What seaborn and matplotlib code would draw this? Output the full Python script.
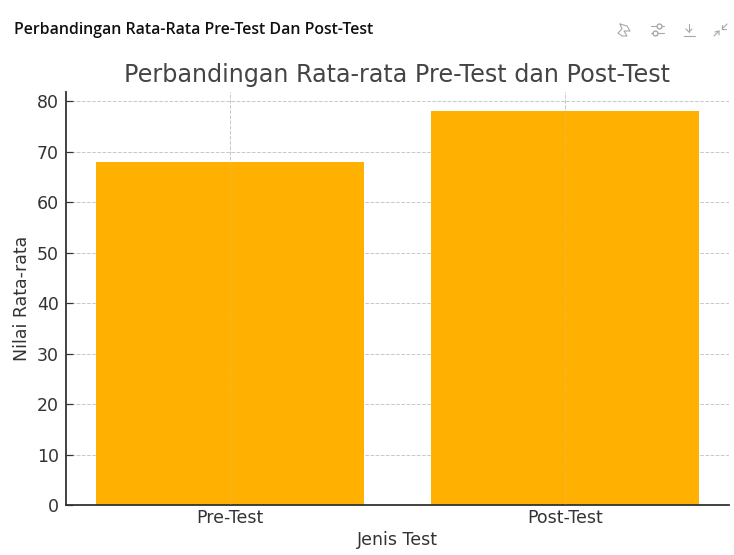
import matplotlib
matplotlib.use('Agg')
import matplotlib.pyplot as plt
from matplotlib.lines import Line2D
import pandas as pd
import seaborn as sns

W, H = 734, 555

test_names = ['Pre-Test', 'Post-Test']
mean_scores = [68, 78]
y_ticks = [0, 10, 20, 30, 40, 50, 60, 70, 80]

df = pd.DataFrame({'Jenis Test': test_names, 'Nilai Rata-rata': mean_scores})

sns.set_theme(style='white')
plt.rcParams['font.family'] = ['DejaVu Sans']

fig = plt.figure(figsize=(W / 100, H / 100), dpi=100)
ax = fig.add_axes([66 / W, 1 - 505 / H, (729 - 66) / W, (505 - 91.5) / H])

sns.barplot(data=df, x='Jenis Test', y='Nilai Rata-rata', color='#FFB000', saturation=1,
            width=0.8, linewidth=0, ax=ax, zorder=2)
ax.set_xlim(-0.49, 1.49)
ax.set_ylim(0, 81.9)
ax.set_yticks(y_ticks)

ax.grid(True, linestyle='--', linewidth=0.7, color='#c8c8c8', zorder=1)
ax.set_axisbelow(True)
# the vertical grid shows faintly through the bars
for i in range(len(test_names)):
    ax.axvline(i, linestyle='--', linewidth=0.7, color='#c8c8c8', alpha=0.3, zorder=3)
sns.despine(ax=ax)
for s in ['left', 'bottom']:
    ax.spines[s].set_color('#333333')
    ax.spines[s].set_linewidth(1.3)

ax.tick_params(axis='both', direction='in', length=5, width=0.9, color='#333333', labelsize=12.5,
               labelcolor='#333333', left=True, bottom=True)
ax.tick_params(axis='x', pad=3)
ax.tick_params(axis='y', pad=5)
ax.set_xlabel('Jenis Test', fontsize=12.5, color='#333333', labelpad=3)
ax.set_ylabel('Nilai Rata-rata', fontsize=12.5, color='#333333', labelpad=4)
ax.set_title('Perbandingan Rata-rata Pre-Test dan Post-Test', fontsize=17.2, color='#444444', pad=7)

# page header above the chart
fig.text(14 / W, 1 - 30.5 / H, 'Perbandingan Rata-Rata Pre-Test Dan Post-Test', fontsize=11.4,
         fontweight='semibold', family='Open Sans', color='#111111', va='center')

# toolbar icons
def icon(points, **kw):
    xs = [p[0] / W for p in points]
    ys = [1 - p[1] / H for p in points]
    fig.add_artist(Line2D(xs, ys, color='#a8a8a8', linewidth=0.8, **kw))

icon([(620, 24), (627, 26), (630, 31), (624, 31), (627, 36), (622, 36), (618, 33), (622, 29), (620, 24)])
icon([(651, 26), (664, 26)])
icon([(651, 33), (664, 33)])
icon([(659, 26)], marker='o', markersize=3.5, markerfacecolor='white')
icon([(655, 33)], marker='o', markersize=3.5, markerfacecolor='white')
icon([(689, 24), (689, 32)])
icon([(686, 29), (689, 32), (692, 29)])
icon([(684, 36), (695, 36)])
icon([(714, 36), (719, 31)])
icon([(715, 32), (719, 31), (719, 35)])
icon([(722, 29), (727, 24)])
icon([(722, 25), (722, 29), (726, 29)])

fig.savefig('out.png', dpi=100)
